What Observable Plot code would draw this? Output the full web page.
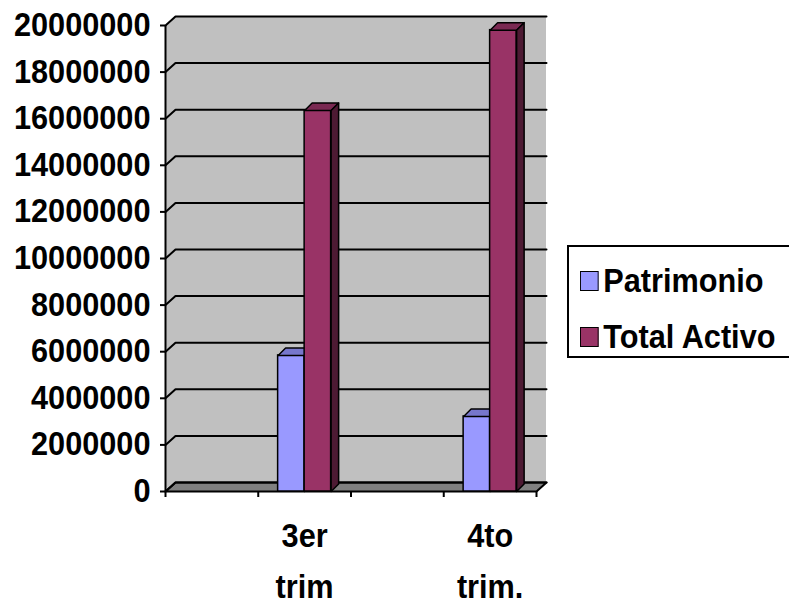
<!DOCTYPE html>
<html><head><meta charset="utf-8">
<script src="https://cdn.jsdelivr.net/npm/d3@7"></script>
<script src="https://cdn.jsdelivr.net/npm/@observablehq/plot@0.6"></script>
<style>
body{margin:0;background:#fff;font-family:"Liberation Sans",Arial,sans-serif;}
#wrap{position:relative;width:789px;height:605px;overflow:hidden}
#wrap svg{position:absolute;left:0;top:0}
.legend{position:absolute;left:567px;top:245px;width:240px;height:113px;border:2px solid #000;box-sizing:border-box;background:#fff}
.item{position:absolute;left:11px;height:32px;display:flex;align-items:center;font-weight:bold;font-size:33px;line-height:32px;white-space:nowrap;transform:scaleX(0.93);transform-origin:left center}
.sw{width:20px;height:20px;border:1.5px solid #000;margin-right:5px;box-sizing:border-box}
</style></head>
<body><div id="wrap"></div>
<script>
// ---- data ----
const categories = ["", "3er trim", "", "4to trim."];
const series = ["Patrimonio", "Total Activo"];
const patrimonio = [null, 5840000, null, 3220000];
const totalActivo = [null, 16350000, null, 19800000];
const yTicks = [0, 2000000, 4000000, 6000000, 8000000, 10000000, 12000000, 14000000, 16000000, 18000000, 20000000];

// ---- styles ----
const colors = {
  "Patrimonio": {front: "#9999FF", top: "#7777CC", side: "#4D4D80"},
  "Total Activo": {front: "#993366", top: "#7A2952", side: "#4D1A33"}
};
const FS = 33, SQUEEZE = 0.93;

// ---- layout ----
const W = 789, H = 605;
const mL = 165, mR = 253, mT = 25, mB = 114;
const nCat = categories.length;
const yMax = yTicks[yTicks.length - 1];
const pxX = nCat / (W - mL - mR);
const pxY = yMax / (H - mT - mB);
const wallDX = 10 * pxX, wallDY = 9 * pxY;
const barDX = 7.5 * pxX, barDY = 7.5 * pxY;
const barW = 26.5 * pxX;

const valuesBy = {"Patrimonio": patrimonio, "Total Activo": totalActivo};
const bars = [];
categories.forEach((c, i) => {
  series.forEach((s, j) => {
    const v = valuesBy[s][i];
    if (v == null) return;
    const x1 = i + 0.5 + (j - 1) * barW;
    bars.push({c, s, v, x1, x2: x1 + barW});
  });
});

const poly = (pts) => pts.map(([x, y]) => ({x, y}));
const leftWall = poly([[0, 0], [0, yMax], [wallDX, yMax + wallDY], [wallDX, wallDY]]);
const floor = poly([[0, 0], [nCat, 0], [nCat + wallDX, wallDY], [wallDX, wallDY]]);
const grid = yTicks.flatMap(v => [
  {g: v, x: 0, y: v}, {g: v, x: wallDX, y: v + wallDY}, {g: v, x: nCat + wallDX, y: v + wallDY}
]);

const marks = [
  Plot.line(leftWall, {x: "x", y: "y", fill: "#C0C0C0", stroke: "none", curve: "linear-closed"}),
  Plot.rect([0], {x1: wallDX, x2: nCat + wallDX, y1: wallDY, y2: yMax + wallDY, fill: "#C0C0C0"}),
  Plot.line(floor, {x: "x", y: "y", fill: "#808080", stroke: "#000", strokeWidth: 2, curve: "linear-closed"}),
  Plot.line(grid, {x: "x", y: "y", z: "g", stroke: "#000", strokeWidth: 2})
];

for (const b of bars) {
  const col = colors[b.s];
  marks.push(Plot.rect([b], {x1: "x1", x2: "x2", y1: 0, y2: "v", fill: col.front, stroke: "#000", strokeWidth: 1.5}));
  marks.push(Plot.line(poly([[b.x1, b.v], [b.x2, b.v], [b.x2 + barDX, b.v + barDY], [b.x1 + barDX, b.v + barDY]]),
    {x: "x", y: "y", fill: col.top, stroke: "#000", strokeWidth: 1.5, curve: "linear-closed"}));
  marks.push(Plot.line(poly([[b.x2, 0], [b.x2, b.v], [b.x2 + barDX, b.v + barDY], [b.x2 + barDX, barDY]]),
    {x: "x", y: "y", fill: col.side, stroke: "#000", strokeWidth: 1.5, curve: "linear-closed"}));
}

const labelLines = categories.flatMap((c, i) => c === "" ? [] : c.split(" ").map((t, k) => ({i, t, k})));
marks.push(
  Plot.ruleX([0], {y1: 0, y2: yMax, stroke: "#000", strokeWidth: 2}),
  Plot.axisY({ticks: yTicks, tickSize: 5, tickPadding: 10, tickFormat: d => String(d),
    fontSize: FS, fontWeight: "bold", strokeWidth: 2}),
  Plot.axisX({ticks: d3.range(nCat + 1), tickSize: 6, tickFormat: () => "", strokeWidth: 2}),
  Plot.text(labelLines.filter(d => d.k === 0), {x: d => d.i + 0.5, y: 0, text: "t",
    textAnchor: "middle", lineAnchor: "middle", dy: 45, fontSize: FS, fontWeight: "bold", fill: "#000"}),
  Plot.text(labelLines.filter(d => d.k === 1), {x: d => d.i + 0.5, y: 0, text: "t",
    textAnchor: "middle", lineAnchor: "middle", dy: 96, fontSize: FS, fontWeight: "bold", fill: "#000"})
);

const chart = Plot.plot({
  width: W, height: H,
  marginLeft: mL, marginRight: mR, marginTop: mT, marginBottom: mB,
  x: {type: "linear", domain: [0, nCat], axis: null},
  y: {type: "linear", domain: [0, yMax], axis: null},
  style: {fontFamily: "'Liberation Sans', Arial, sans-serif", color: "#000", background: "transparent", overflow: "visible"},
  marks
});
document.getElementById("wrap").appendChild(chart);

// horizontally condense text like the original rendering
chart.querySelectorAll("text").forEach(t => {
  const parts = t.querySelectorAll("tspan");
  (parts.length ? Array.from(parts) : [t]).forEach(el => {
    const len = el.getComputedTextLength();
    if (len > 0) {
      el.setAttribute("textLength", (len * SQUEEZE).toFixed(1));
      el.setAttribute("lengthAdjust", "spacingAndGlyphs");
    }
  });
});

// legend
const leg = document.createElement("div");
leg.className = "legend";
series.forEach((s, j) => {
  const it = document.createElement("div");
  it.className = "item";
  it.style.top = (18 + j * 56) + "px";
  const sw = document.createElement("span");
  sw.className = "sw";
  sw.style.background = colors[s].front;
  it.appendChild(sw);
  it.appendChild(document.createTextNode(s));
  leg.appendChild(it);
});
document.getElementById("wrap").appendChild(leg);
</script>
</body></html>
